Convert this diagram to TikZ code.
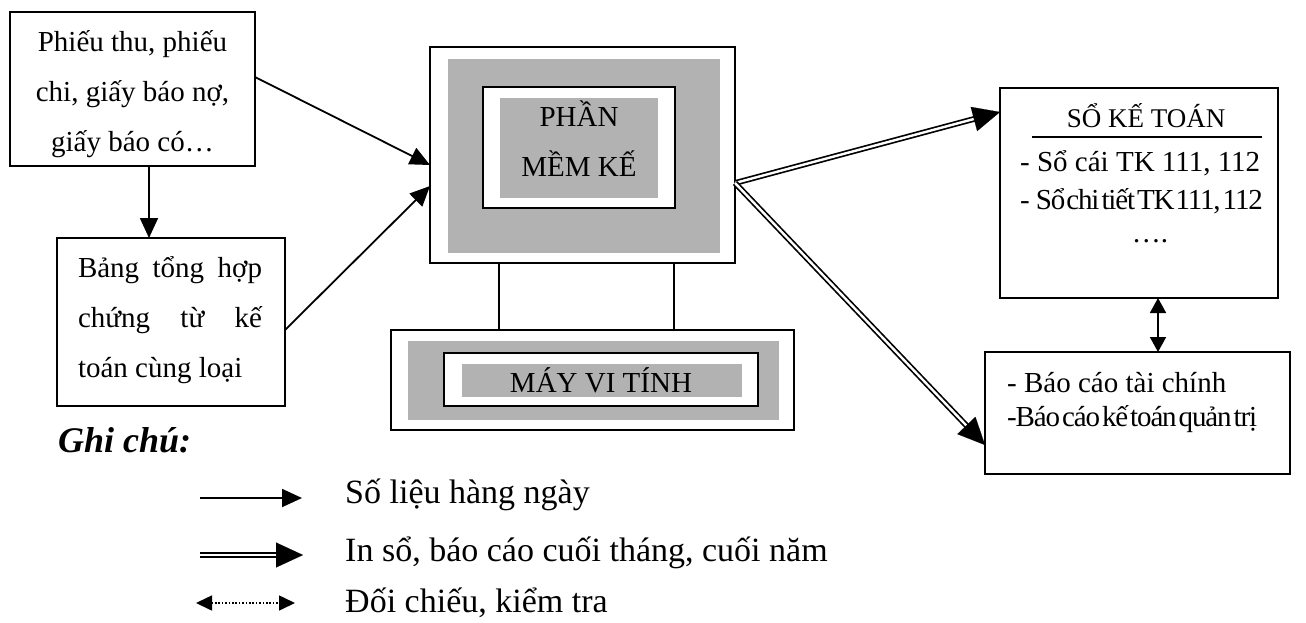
\documentclass[tikz,border=0pt]{standalone}
\usepackage{fontspec}
\usepackage{graphicx}
\setmainfont{Liberation Serif}
\usetikzlibrary{arrows.meta,calc}
\definecolor{boxgray}{gray}{0.7}
\begin{document}
\begin{tikzpicture}[x=1pt,y=-1pt,
  box/.style={draw, line width=1.8pt, rectangle, inner sep=0pt, outer sep=0pt},
  fillbox/.style={fill=boxgray, draw=none, rectangle, inner sep=0pt, outer sep=0pt},
  txt/.style={font=\fontsize{29}{50}\selectfont, inner sep=0pt, align=center},
  lbl/.style={font=\fontsize{29}{34}\selectfont, inner sep=0pt},
  tight/.style={font=\fontsize{29}{34}\selectfont\addfontfeature{LetterSpace=-4}, inner sep=0pt},
  leg/.style={font=\fontsize{34}{40}\selectfont, inner sep=0pt, anchor=west},
  arr/.style={line width=1.8pt, -{Triangle[length=20pt,width=18pt]}},
  dbl/.style={double, double distance=2.4pt, line width=1.7pt},
  dblhead/.style={line width=0.1pt, -{Triangle[length=27pt,width=25pt]}},
  biarr/.style={line width=1.8pt, {Triangle[length=15pt,width=16pt]}-{Triangle[length=15pt,width=16pt]}},
  dotarr/.style={line width=1.6pt, dash pattern=on 1.6pt off 1.8pt, {Triangle[length=16pt,width=15pt]}-{Triangle[length=16pt,width=15pt]}}
]
\useasboundingbox (0,0) rectangle (1306,622);

% Source documents
\node[box, minimum width=245pt, minimum height=154pt] (A) at (132.5,89) {};
\node[txt] (At) at (132.5,94) {Phiếu thu, phiếu\\chi, giấy báo nợ,\\giấy báo có…};
\node[box, minimum width=228pt, minimum height=168pt] (B) at (171,322) {};
\node[txt] (Bt) at (170,320)
  {\makebox[184pt][s]{Bảng tổng hợp}\\\makebox[184pt][s]{chứng từ kế}\\\makebox[184pt][l]{toán cùng loại}};

% Software block
\node[box, minimum width=305pt, minimum height=216pt] (PM) at (582.5,155) {};
\node[fillbox, minimum width=272pt, minimum height=194pt] (PMg) at (584,156) {};
\node[box, fill=white, line width=2pt, minimum width=192pt, minimum height=121pt] (PMi) at (579,147.5) {};
\node[fillbox, minimum width=158pt, minimum height=100pt] (PMig) at (579,148) {};
\node[txt] (PMt) at (579,139) {PHẦN\\MỀM KẾ};

% Computer block
\node[box, minimum width=403pt, minimum height=100pt] (M) at (592.5,380) {};
\node[fillbox, minimum width=371pt, minimum height=79pt] (Mg) at (593.5,380.5) {};
\node[box, fill=white, line width=2pt, minimum width=314pt, minimum height=53pt] (Mi) at (601,379.5) {};
\node[fillbox, minimum width=280pt, minimum height=33pt] (Mig) at (602,380.5) {};
\node[lbl] (Mt) at (601,380) {MÁY VI TÍNH};

% Ledger box
\node[box, minimum width=278pt, minimum height=210pt] (S) at (1139,193) {};
\node[font=\fontsize{27}{30}\selectfont, inner sep=0pt] (St) at (1146,116) {SỔ KẾ TOÁN};
\draw[line width=1.3pt] ([xshift=32pt]S.west |- 0,137) -- ([xshift=-16pt]S.east |- 0,137);
\node[lbl, anchor=west] (S1) at (1020,163) {- Sổ cái TK 111, 112};
\node[tight, anchor=west] (S2) at (1020,201) {- Sổ\hspace{1pt}chi\hspace{2pt}tiết\hspace{2pt}TK\hspace{1pt}111,\hspace{2pt}112};
\node[lbl] (S3) at (1150,241) {….};

% Report box
\node[box, minimum width=305pt, minimum height=122pt] (R) at (1137.5,413) {};
\node[lbl, anchor=west] (R1) at (1007,383) {- Báo cáo tài chính};
\node[tight, anchor=west] (R2) at (1007,419) {-Báo\hspace{2pt}cáo\hspace{2pt}kế\hspace{2pt}toán\hspace{2pt}quản\hspace{2pt}trị};

% Connector coordinates
\coordinate (aE) at ([yshift=12pt]A.east);
\coordinate (aS) at ([xshift=16.5pt]A.south);
\coordinate (bN) at ([xshift=-22pt]B.north);
\coordinate (bE) at ([yshift=-8pt]B.east);
\coordinate (pmW1) at ([yshift=-10pt]PM.west);
\coordinate (pmW2) at ([yshift=-31pt]PM.west);
\coordinate (pmE) at ([yshift=-28pt]PM.east);
\coordinate (sW) at ([yshift=81pt]S.west);
\coordinate (sS) at ([xshift=19pt]S.south);
\coordinate (rW) at ([yshift=-32pt]R.west);
\coordinate (rN) at ([xshift=20.5pt]R.north);
\coordinate (pmS1) at ([xshift=-83.5pt]PM.south);
\coordinate (pmS2) at ([xshift=91.5pt]PM.south);

% Single arrows
\draw[arr] (aE) -- (pmW1);
\draw[arr] (bE) -- (pmW2);
\draw[arr] (aS) -- (bN);

% PM to computer
\draw[line width=1.6pt] (pmS1) -- (pmS1 |- M.north);
\draw[line width=1.6pt] (pmS2) -- (pmS2 |- M.north);

% Double arrows
\draw[dbl, shorten >=23pt] (pmE) -- (sW);
\draw[dblhead] ($(sW)!27pt!(pmE)$) -- (sW);
\draw[dbl, shorten >=23pt] (pmE) -- (rW);
\draw[dblhead] ($(rW)!27pt!(pmE)$) -- (rW);

% Ledger <-> report
\draw[biarr] (sS) -- (rN);

% Legend
\node[font=\fontsize{36}{40}\selectfont\bfseries\itshape, inner sep=0pt, anchor=west] (gc) at (58,440) {Ghi chú:};
\coordinate (l1a) at (200,498);
\coordinate (l1b) at (302,498);
\coordinate (l2a) at (200,555);
\coordinate (l2b) at (303,555);
\coordinate (l3a) at (196,603);
\coordinate (l3b) at (295,603);
\draw[arr] (l1a) -- (l1b);
\draw[dbl, shorten >=23pt] (l2a) -- (l2b);
\draw[dblhead] ($(l2b)!27pt!(l2a)$) -- (l2b);
\draw[dotarr] (l3a) -- (l3b);
\node[leg] (t1) at (345,495) {Số liệu hàng ngày};
\node[leg] (t2) at (345,553) {In sổ, báo cáo cuối tháng, cuối năm};
\node[leg] (t3) at (345,603) {Đối chiếu, kiểm tra};
\end{tikzpicture}
\end{document}
